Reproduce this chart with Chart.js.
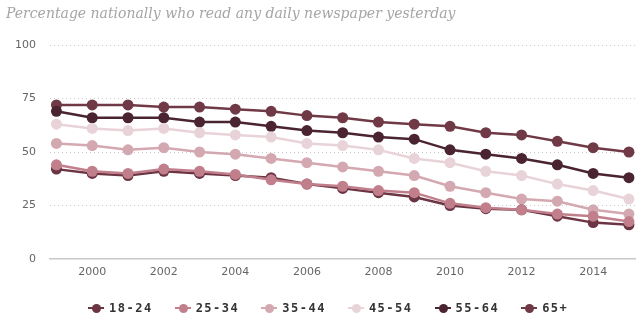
<!DOCTYPE html>
<html>
<head>
<meta charset="utf-8">
<script src="https://cdn.jsdelivr.net/npm/chart.js@4/dist/chart.umd.min.js"></script>
<style>
  html, body { margin: 0; padding: 0; background: #fff; }
  #wrap { position: relative; width: 643px; height: 329px; overflow: hidden; }
  #title {
    position: absolute; left: 6px; top: 5px;
    font: italic 14px "DejaVu Serif"; color: #a5a5a5; white-space: nowrap;
  }
  #legend {
    position: absolute; left: 88px; top: 300px; height: 16px;
    display: flex; align-items: center;
    font: bold 12px "DejaVu Sans Mono"; letter-spacing: 1.5px; color: #333;
  }
  .item { display: flex; align-items: center; margin-right: 22px; }
  .mark { position: relative; width: 16px; height: 2px; margin-right: 5px; }
  .mark::after {
    content: ""; position: absolute; left: 4px; top: -3.5px;
    width: 9px; height: 9px; border-radius: 50%; background: inherit;
  }
</style>
</head>
<body>
<div id="wrap">
  <canvas id="chart" width="643" height="329"></canvas>
  <div id="title">Percentage nationally who read any daily newspaper yesterday</div>
  <div id="legend"></div>
</div>
<script>
const years = [1999, 2000, 2001, 2002, 2003, 2004, 2005, 2006, 2007, 2008, 2009, 2010, 2011, 2012, 2013, 2014, 2015];
const tickYears = [2000, 2002, 2004, 2006, 2008, 2010, 2012, 2014];
const yTicks = [0, 25, 50, 75, 100];

const ageGroups = ['18-24', '25-34', '35-44', '45-54', '55-64', '65+'];
const colours = ['#6b3543', '#c17f8c', '#d4a8b0', '#e8d3d8', '#4a2430', '#703946'];

const age18to24 = [42, 40, 39, 41, 40, 39, 38, 35, 33, 31, 29, 25, 23.5, 23, 20, 17, 16];
const age25to34 = [44, 41, 40, 42, 41, 39.5, 37, 35, 34, 32, 31, 26, 24, 23, 21, 20, 17.5];
const age35to44 = [54, 53, 51, 52, 50, 49, 47, 45, 43, 41, 39, 34, 31, 28, 27, 23, 21];
const age45to54 = [63, 61, 60, 61, 59, 58, 57, 54, 53, 51, 47, 45, 41, 39, 35, 32, 28];
const age55to64 = [69, 66, 66, 66, 64, 64, 62, 60, 59, 57, 56, 51, 49, 47, 44, 40, 38];
const age65plus = [72, 72, 72, 71, 71, 70, 69, 67, 66, 64, 63, 62, 59, 58, 55, 52, 50];

const series = [age18to24, age25to34, age35to44, age45to54, age55to64, age65plus];
// pink 25-34 sits over the dark 18-24 line where they cross
const drawOrder = [2, 1, 3, 4, 5, 6];

const datasets = series.map((vals, i) => ({
  label: ageGroups[i],
  data: vals.map((v, j) => ({ x: years[j], y: v })),
  borderColor: colours[i],
  backgroundColor: colours[i],
  borderWidth: 2.5,
  pointRadius: 5.5,
  pointBorderWidth: 0,
  pointHoverRadius: 5.5,
  tension: 0,
  order: drawOrder[i]
}));

new Chart(document.getElementById('chart'), {
  type: 'line',
  data: { datasets },
  options: {
    responsive: false,
    animation: false,
    layout: { padding: { top: 45, left: 6, right: 8, bottom: 0 } },
    plugins: { legend: { display: false }, tooltip: { enabled: false }, title: { display: false } },
    scales: {
      x: {
        type: 'linear',
        min: 1998.82,
        max: 2015.17,
        afterBuildTicks: s => { s.ticks = tickYears.map(v => ({ value: v })); },
        afterFit: s => { s.height = 70; },
        ticks: {
          callback: v => String(v),
          font: { family: 'DejaVu Sans', size: 11 },
          color: '#666',
          padding: 7,
          maxRotation: 0,
          autoSkip: false
        },
        grid: { display: false, drawTicks: false },
        border: { display: true, color: '#c8c8c8', width: 1.5 }
      },
      y: {
        min: 0,
        max: 100,
        afterBuildTicks: s => { s.ticks = yTicks.map(v => ({ value: v })); },
        afterFit: s => { s.width = 44; },
        ticks: {
          font: { family: 'DejaVu Sans', size: 11 },
          color: '#666',
          padding: 14
        },
        grid: {
          drawTicks: false,
          color: c => c.tick && c.tick.value === 0 ? 'rgba(0,0,0,0)' : '#c8c8c8',
          lineWidth: 1
        },
        border: { display: false, dash: [1, 3] }
      }
    }
  }
});

const legend = document.getElementById('legend');
ageGroups.forEach((g, i) => {
  const item = document.createElement('div');
  item.className = 'item';
  const mark = document.createElement('span');
  mark.className = 'mark';
  mark.style.background = colours[i];
  const txt = document.createElement('span');
  txt.textContent = g;
  item.appendChild(mark);
  item.appendChild(txt);
  legend.appendChild(item);
});
</script>
</body>
</html>
